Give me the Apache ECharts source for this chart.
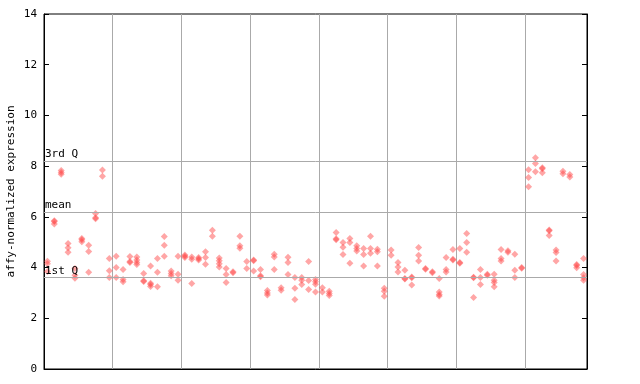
<!DOCTYPE html>
<html>
<head>
<meta charset="utf-8">
<script src="https://cdn.jsdelivr.net/npm/echarts@6/dist/echarts.min.js"></script>
<style>html,body{margin:0;padding:0;background:#fff;}#c{width:640px;height:384px;}</style>
</head>
<body>
<div id="c"></div>
<script>
// replicate values per sample (79 samples, groups of 10 separated by grid lines)
const sampleValues = [
  [4.25, 4.15, 3.85], [5.85, 5.82, 5.72], [7.83, 7.75, 7.68], [4.95, 4.78, 4.6],
  [3.96, 3.7, 3.58], [5.15, 5.1, 5.02], [4.88, 4.63, 3.82], [6.13, 5.96, 5.93],
  [7.85, 7.6], [4.36, 3.87, 3.61],
  [4.45, 4.0, 3.61], [3.92, 3.53, 3.44], [4.44, 4.24, 4.2], [4.42, 4.3, 4.2, 4.12],
  [3.77, 3.48, 3.45], [4.06, 3.38, 3.33, 3.25], [4.36, 3.82, 3.24], [5.23, 4.88, 4.45],
  [3.86, 3.77, 3.68], [4.45, 3.74, 3.5],
  [4.5, 4.45, 4.4], [4.42, 4.33, 3.37], [4.4, 4.35, 4.3], [4.62, 4.4, 4.13],
  [5.47, 5.24], [4.38, 4.27, 4.15, 4.02], [3.96, 3.73, 3.41], [3.84, 3.8],
  [5.24, 4.86, 4.76], [4.24, 3.96],
  [4.3, 4.27, 3.86], [3.92, 3.68, 3.64], [3.1, 3.0, 2.92], [4.53, 4.42, 3.92],
  [3.2, 3.11], [4.41, 4.2, 3.73], [3.61, 3.18, 2.74], [3.61, 3.5, 3.33],
  [4.24, 3.49, 3.14], [3.53, 3.44, 3.34, 3.04],
  [3.2, 3.04], [3.07, 2.98, 2.9], [5.38, 5.14, 5.1], [4.99, 4.8, 4.52],
  [5.15, 4.99, 4.17], [4.86, 4.75, 4.65], [4.75, 4.52, 4.06], [5.24, 4.75, 4.56],
  [4.72, 4.62, 4.06], [3.18, 3.07, 2.87],
  [4.69, 4.49], [4.2, 4.02, 3.83], [3.89, 3.57, 3.55], [3.63, 3.6, 3.31],
  [4.79, 4.49, 4.26], [3.96, 3.93], [3.84, 3.8], [3.57, 3.04, 2.94, 2.88],
  [4.4, 3.92, 3.83], [4.71, 4.33, 4.3],
  [4.75, 4.2, 4.17], [5.34, 4.99, 4.6], [3.62, 3.6, 2.82], [3.92, 3.61, 3.33],
  [3.74, 3.7], [3.74, 3.5, 3.41, 3.24], [4.71, 4.36, 4.26], [4.66, 4.6],
  [4.53, 3.89, 3.61], [4.0, 3.97],
  [7.86, 7.55, 7.19], [8.33, 8.1, 7.78], [7.94, 7.9, 7.74], [5.48, 5.45, 5.26],
  [4.69, 4.59, 4.26], [7.8, 7.7], [7.67, 7.57], [4.12, 4.08, 3.99],
  [4.36, 3.73, 3.6, 3.5]
];
const refLabels = ['3rd Q', 'mean', '1st Q'];
const refValues = [8.2, 6.2, 3.61];
const yMin = 0, yMax = 14, yStep = 2;
const groupSize = 10;

const points = [];
sampleValues.forEach((vals, i) => vals.forEach(v => points.push([i + 0.5, v])));
const nSamples = sampleValues.length;
const mono = 'DejaVu Sans Mono';

const chart = echarts.init(document.getElementById('c'), null, {renderer: 'canvas'});
chart.setOption({
  animation: false,
  backgroundColor: '#fff',
  grid: {left: 44, right: 53, top: 14, bottom: 15, show: true, borderColor: '#000', borderWidth: 1,
    containLabel: false, outerBoundsMode: 'none'},
  xAxis: {
    type: 'value', min: 0, max: nSamples, interval: groupSize,
    axisLine: {show: true, lineStyle: {color: '#000'}},
    axisTick: {show: false}, axisLabel: {show: false},
    splitLine: {show: true, lineStyle: {color: '#aaaaaa', width: 1}}
  },
  yAxis: [{
    type: 'value', min: yMin, max: yMax, interval: yStep,
    name: 'affy-normalized expression', nameLocation: 'middle', nameGap: 27,
    nameMoveOverlap: false,
    nameTextStyle: {fontFamily: mono, fontSize: 11, color: '#000'},
    axisLine: {show: true, lineStyle: {color: '#000'}},
    axisTick: {show: true, inside: true, length: 5, lineStyle: {color: '#000'}},
    axisLabel: {fontFamily: mono, fontSize: 11, color: '#000', margin: 7},
    splitLine: {show: false}
  }, {
    type: 'value', min: yMin, max: yMax, interval: yStep, position: 'right',
    axisLine: {show: true, lineStyle: {color: '#000'}},
    axisTick: {show: true, inside: true, length: 5, lineStyle: {color: '#000'}},
    axisLabel: {show: false}, splitLine: {show: false}
  }],
  series: [{
    type: 'scatter',
    data: points,
    symbol: 'diamond',
    symbolSize: 7,
    itemStyle: {color: 'rgba(255,70,70,0.6)'},
    markLine: {
      silent: true, symbol: 'none',
      lineStyle: {color: '#aaaaaa', type: 'solid', width: 1},
      label: {show: true, position: 'insideStartTop', distance: [1, 1], formatter: p => p.name,
        fontFamily: mono, fontSize: 11, color: '#000'},
      data: refValues.map((v, k) => ({name: refLabels[k], yAxis: v}))
    }
  }]
});
</script>
</body>
</html>
